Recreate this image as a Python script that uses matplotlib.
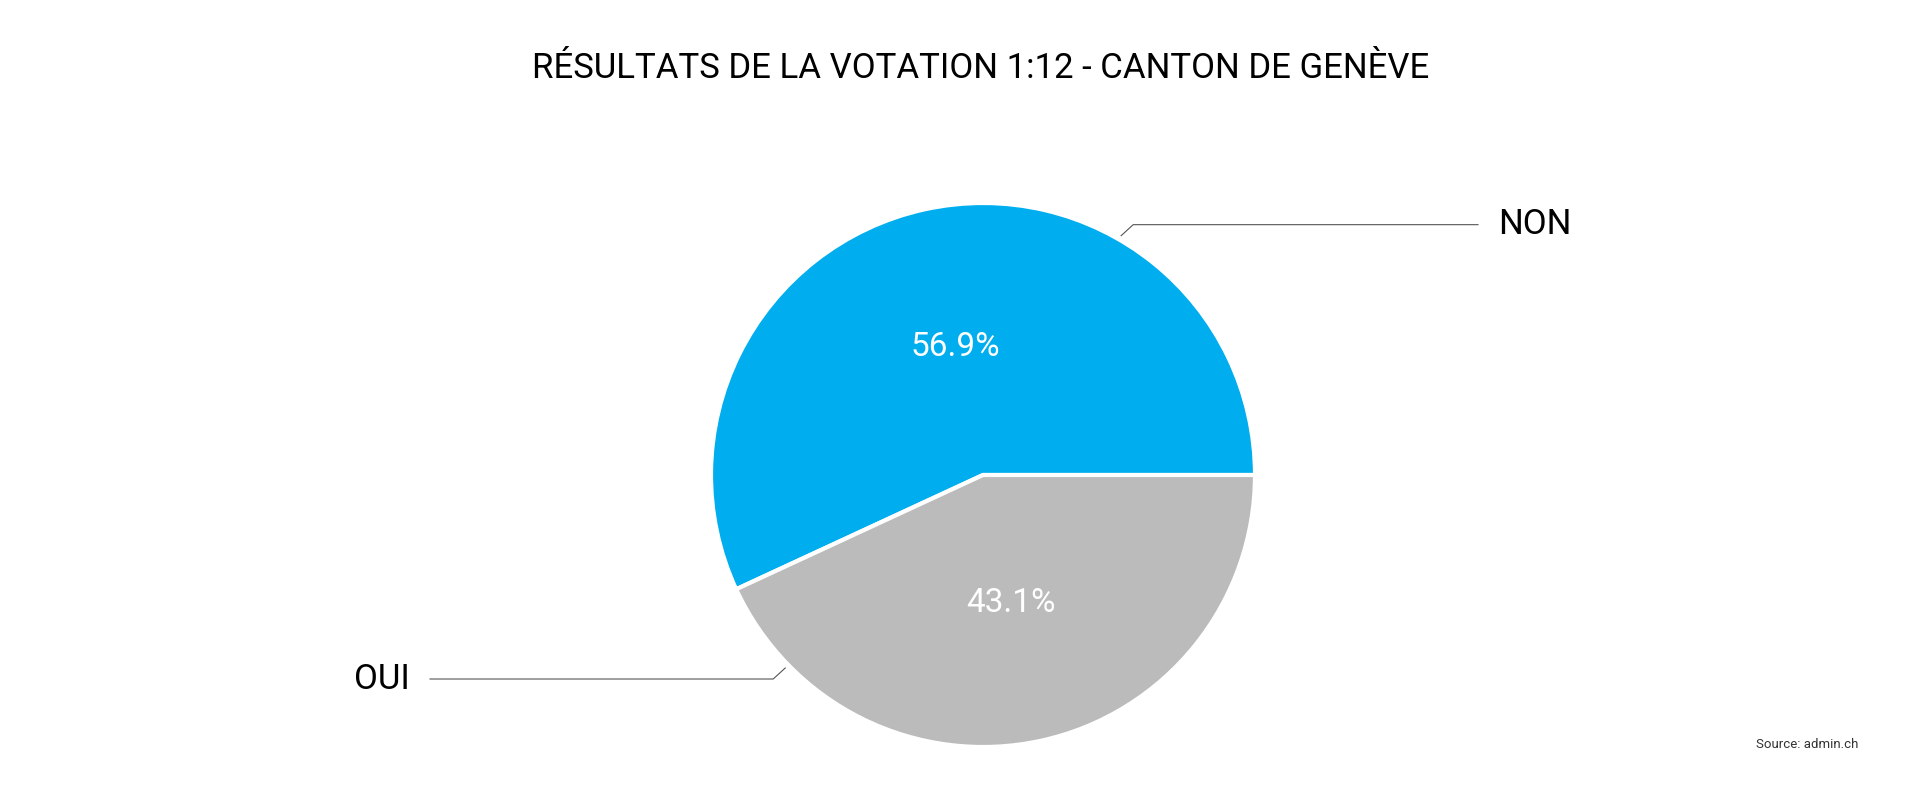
import numpy as np
import matplotlib
matplotlib.use("Agg")
import matplotlib.pyplot as plt

plt.rcParams['font.family'] = ['Roboto', 'DejaVu Sans']

labels = ["NON", "OUI"]
values = [56.9, 43.1]
colors = ["#00AEEF", "#BBBBBB"]
title = "RÉSULTATS DE LA VOTATION 1:12 - CANTON DE GENÈVE"
source = "Source: admin.ch"

W, H = 1908, 800
fig = plt.figure(figsize=(W / 100, H / 100), dpi=100)
ax = fig.add_axes([0, 0, 1, 1])
ax.set_xlim(0, W)
ax.set_ylim(0, H)
ax.set_aspect("equal")
ax.axis("off")

cx, cy, r = 983, 800 - 475, 272
wedges, _, autotexts = ax.pie(values, colors=colors, startangle=0, counterclock=True,
                              center=(cx, cy), radius=r, autopct="%.1f%%", pctdistance=0.48,
                              wedgeprops=dict(edgecolor="white", linewidth=3),
                              textprops=dict(color="white", fontsize=24))
ax.set_xlim(0, W)
ax.set_ylim(0, H)

# leader lines: (angle of anchor on the rim, end x of horizontal, side)
leaders = [(60, 1478, 1), (224.3, 430, -1)]
for (ang, xend, side), lab in zip(leaders, labels):
    a = np.deg2rad(ang)
    x0, y0 = cx + 1.016 * r * np.cos(a), cy + 1.016 * r * np.sin(a)
    x1, y1 = x0 + side * 12, y0 + np.sign(np.sin(a)) * 11
    ax.plot([x0, x1, xend], [y0, y1, y1], color="#555555", lw=0.8)
    if side > 0:
        ax.text(xend + 20, y1, lab, fontsize=25, va="center", ha="left")
    else:
        ax.text(xend - 20, y1, lab, fontsize=25, va="center", ha="right")

fig.text(0.514, 1 - 69 / H, title, fontsize=25, ha="center", va="center")
fig.text(1858 / W, 1 - 745 / H, source, fontsize=9.5, ha="right", va="center", color="#333333")

fig.savefig("out.png", dpi=100, facecolor="white")
